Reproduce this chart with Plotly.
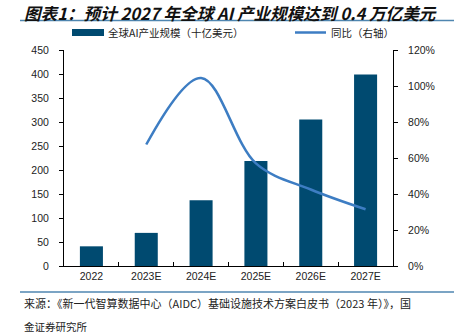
import plotly.graph_objects as go

categories = ["2022", "2023E", "2024E", "2025E", "2026E", "2027E"]
market_size = [41, 69, 137, 219, 305, 399]          # 十亿美元
yoy_growth = [None, 0.675, 1.045, 0.57, 0.425, 0.315]  # 同比

W, H = 454, 335
L, R, T, B = 64, 393, 50, 266

def px(x):
    return (x - L) / (R - L)

def py(y):
    return (B - y) / (B - T)

BAR = "#004A70"
LINE = "#3D7DC3"
FONT = "Liberation Sans, Arial, Noto Sans CJK SC, sans-serif"
CJK = "Noto Sans CJK SC, sans-serif"

fig = go.Figure()
fig.add_trace(go.Bar(x=categories, y=market_size, marker_color=BAR,
                     marker_line_width=0, width=0.42, name="全球AI产业规模（十亿美元）",
                     showlegend=False))
fig.add_trace(go.Scatter(x=categories, y=yoy_growth, yaxis="y2", mode="lines",
                         line=dict(color=LINE, width=2.5, shape="spline", smoothing=1.0),
                         name="同比（右轴）", showlegend=False, connectgaps=False))

shapes = [
    # title underline
    dict(type="line", xref="paper", yref="paper", x0=px(20), x1=px(454), y0=py(20.5), y1=py(20.5),
         line=dict(color="#4F86B0", width=1.5)),
    # footer line
    dict(type="line", xref="paper", yref="paper", x0=px(20), x1=px(454), y0=py(292), y1=py(292),
         line=dict(color="#4F86B0", width=1.5)),
    # legend swatches
    dict(type="rect", xref="paper", yref="paper", x0=px(72), x1=px(104), y0=py(36), y1=py(29),
         fillcolor=BAR, line=dict(width=0)),
    dict(type="line", xref="paper", yref="paper", x0=px(295), x1=px(326), y0=py(32.5), y1=py(32.5),
         line=dict(color=LINE, width=2.5)),
]

annotations = [
    dict(text="<b><i>图表1：预计 2027 年全球 AI 产业规模达到 0.4 万亿美元</i></b>",
         xref="paper", yref="paper", x=px(23), y=py(0), xanchor="left", yanchor="top",
         borderpad=0, showarrow=False, font=dict(family=CJK, size=16.6, color="#111")),
    dict(text="全球AI产业规模（十亿美元）", xref="paper", yref="paper", x=px(106), y=py(32.5),
         xanchor="left", yanchor="middle", showarrow=False, font=dict(family=CJK, size=10.5, color="#222")),
    dict(text="同比（右轴）", xref="paper", yref="paper", x=px(329), y=py(32.5),
         xanchor="left", yanchor="middle", showarrow=False, font=dict(family=CJK, size=10.5, color="#222")),
    dict(text="来源：《新一代智算数据中心（AIDC）基础设施技术方案白皮书（2023 年）》，国",
         xref="paper", yref="paper", x=px(22), y=py(303), xanchor="left", yanchor="middle",
         showarrow=False, font=dict(family=CJK, size=11, color="#222")),
    dict(text="金证券研究所",
         xref="paper", yref="paper", x=px(22), y=py(326), xanchor="left", yanchor="middle",
         showarrow=False, font=dict(family=CJK, size=10.5, color="#222")),
]

fig.update_layout(
    width=W, height=H,
    margin=dict(l=L, r=W - R, t=T, b=H - B, pad=0),
    paper_bgcolor="white", plot_bgcolor="white",
    bargap=0.58,
    font=dict(family=FONT, size=10.5, color="#222"),
    shapes=shapes, annotations=annotations,
    xaxis=dict(showline=True, linecolor="#000", linewidth=1, ticks="inside", tickson="boundaries",
               ticklen=4, tickcolor="#000", showgrid=False, tickfont=dict(size=10.5), zeroline=False),
    yaxis=dict(range=[0, 450], dtick=50, showline=True, linecolor="#000", linewidth=1,
               ticks="outside", ticklen=4, tickcolor="#000", showgrid=False, zeroline=False,
               tickfont=dict(size=10.5), ticklabelstandoff=8),
    yaxis2=dict(range=[0, 1.2], dtick=0.2, tickformat=".0%", overlaying="y", side="right",
                showline=True, linecolor="#000", linewidth=1, ticks="outside", ticklen=4,
                tickcolor="#000", showgrid=False, zeroline=False, tickfont=dict(size=10.5),
                ticklabelstandoff=8),
    showlegend=False,
)

fig.write_html("out.html")
